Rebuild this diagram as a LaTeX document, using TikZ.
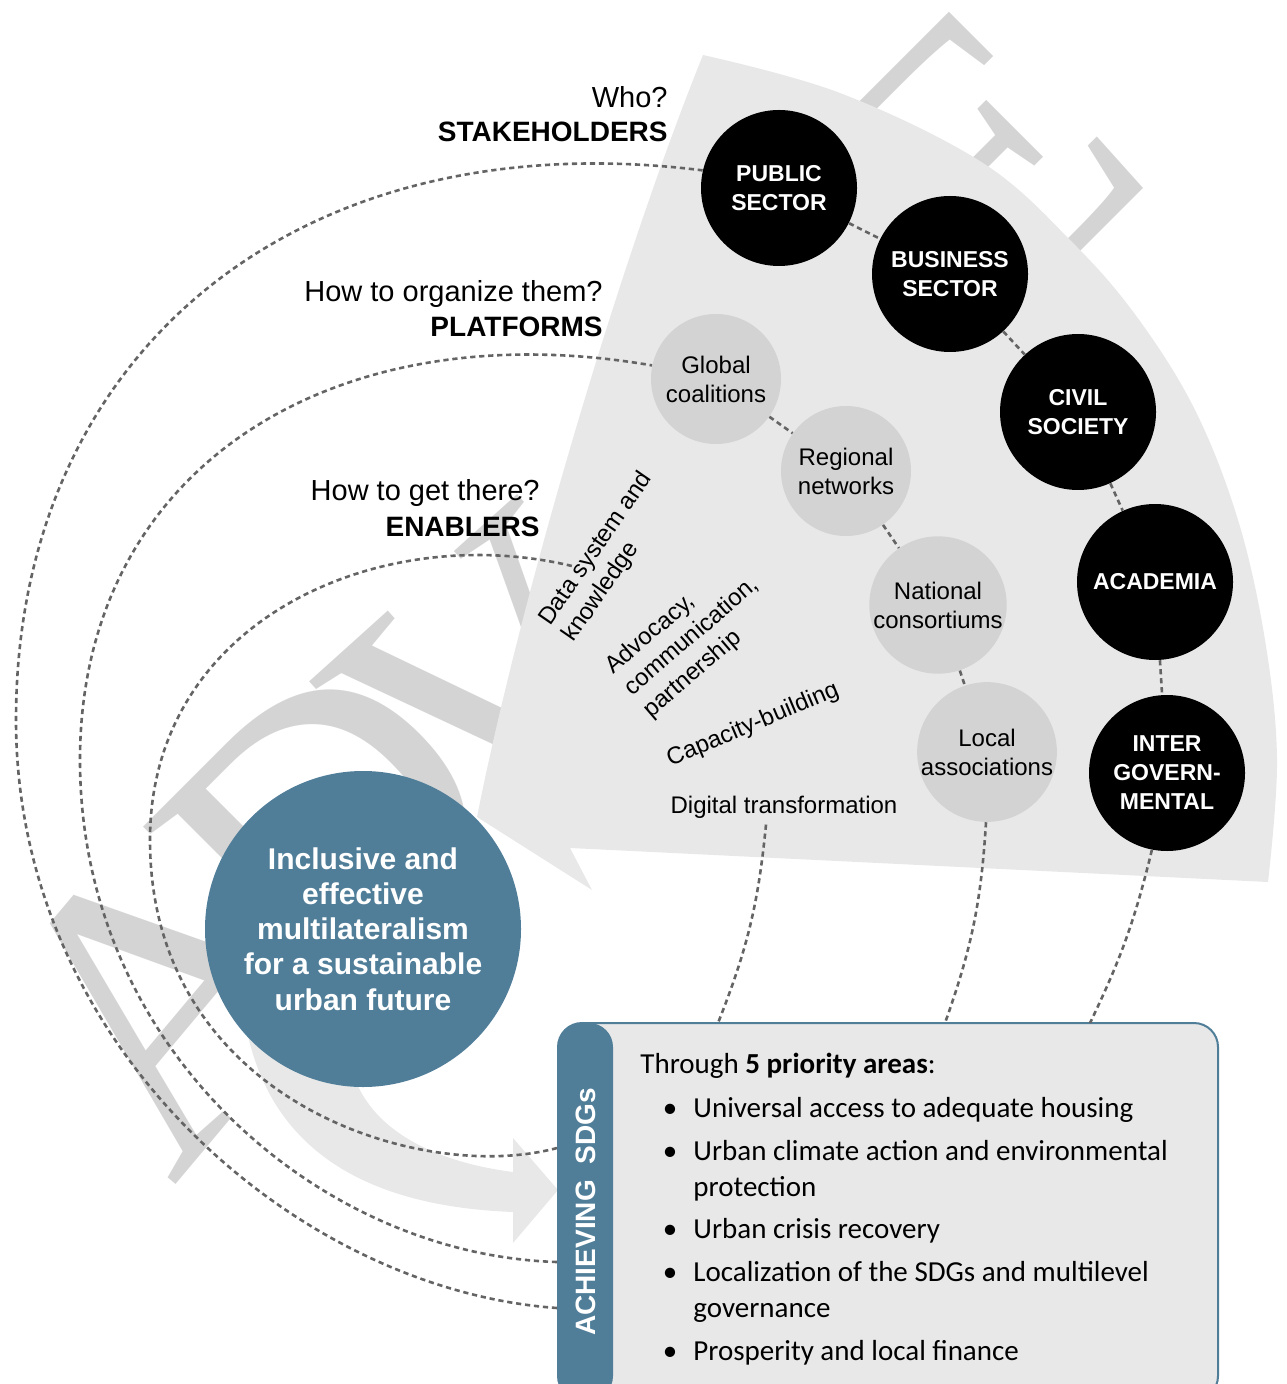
\documentclass[tikz,border=0pt]{standalone}
\usepackage{fontspec}
\setmainfont{Liberation Sans}
\newfontfamily\boxfont{Carlito}
\newfontfamily\wmfont{Liberation Serif}
\definecolor{fanGray}{RGB}{232,232,232}
\definecolor{platGray}{RGB}{211,211,211}
\definecolor{wmGray}{RGB}{212,212,212}
\definecolor{dashGray}{RGB}{100,100,100}
\definecolor{unBlue}{RGB}{80,126,153}
\tikzset{
  stake/.style={circle, fill=black, text=white, minimum size=78pt, inner sep=0pt, align=center, font=\bfseries\fontsize{11.5}{14.5}\selectfont},
  plat/.style={circle, fill=platGray, text=black, minimum size=65pt, inner sep=0pt, align=center, font=\fontsize{12}{14.5}\selectfont},
  conn/.style={draw=dashGray, line width=1.3pt, dash pattern=on 2.6pt off 1.9pt},
  qlab/.style={anchor=base east, inner sep=0pt, font=\fontsize{14.5}{17}\selectfont},
  qbold/.style={anchor=base east, inner sep=0pt, font=\bfseries\fontsize{14}{17}\selectfont},
  enab/.style={inner sep=0pt, align=left, font=\fontsize{12}{14.5}\selectfont},
  wm/.style={inner sep=0pt, text=wmGray, font=\wmfont\fontsize{200}{200}\selectfont},
  itemtxt/.style={anchor=base west, inner sep=0pt, font=\boxfont\fontsize{14.5}{18}\selectfont},
  bul/.style={anchor=base, inner sep=0pt, font=\boxfont\fontsize{14.5}{18}\selectfont},
}
\begin{document}
\begin{tikzpicture}[x=0.5pt,y=-0.5pt]
\useasboundingbox (0,0) rectangle (1286,1384);
% watermark letters
\node[wm, rotate=50] (wmA) at (165,992) {A};
\node[wm, rotate=45] (wmD) at (330,826) {D};
\node[wm, rotate=42] (wmV) at (503,688) {V};
\node[wm, rotate=45] (wmE) at (981,166) {E};
% curved arrow band
\fill[fanGray] (240,960) .. controls (240,1120) and (330,1205) .. (513,1212) -- (513,1243) -- (558,1190) -- (513,1138) -- (513,1172) .. controls (420,1160) and (360,1120) .. (350,1060) -- cycle;
% fan
\fill[fanGray] plot[smooth, tension=0.6] coordinates {(703,55) (840,93) (983,163) (1073,243) (1137,317) (1195,410) (1238,520) (1265,640) (1277,760) (1268,882)} -- (570,848) -- (592,890) -- (477,817) .. controls (520,600) and (620,260) .. (703,55) -- cycle;
% box
\draw[draw=unBlue, line width=1pt, fill=fanGray, rounded corners=12pt] (558,1023) rectangle (1218,1400);
\fill[unBlue, rounded corners=12pt] (558,1023) rectangle (613,1400);
\coordinate (sdgA) at (557,1148);
\coordinate (sdgB) at (557,1262);
\coordinate (sdgC) at (557,1308);
\coordinate (topD) at (718,1023);
\coordinate (topL) at (945,1023);
\coordinate (topI) at (1090,1023);
\coordinate (dataend) at (572,566);
% question labels
\node[qlab] (who) at (668,108) {Who?};
\node[qbold] (stk) at (668,142) {STAKEHOLDERS};
\node[qlab] (how1) at (603,302) {How to organize them?};
\node[qbold] (plf) at (603,337) {PLATFORMS};
\node[qlab] (how2) at (540,501) {How to get there?};
\node[qbold] (enb) at (540,536) {ENABLERS};
% stakeholders
\node[stake] (pub) at (779,188) {PUBLIC\\SECTOR};
\node[stake] (bus) at (950,274) {BUSINESS\\SECTOR};
\node[stake] (civ) at (1078,412) {CIVIL\\SOCIETY};
\node[stake] (aca) at (1155,582) {ACADEMIA};
\node[stake] (int) at (1167,773) {INTER\\GOVERN-\\MENTAL};
% platforms
\node[plat] (glo) at (716,379) {Global\\coalitions};
\node[plat] (reg) at (846,471) {Regional\\networks};
\node[plat] (nat) at (938,605) {National\\consortiums};
\node[plat] (loc) at (987,752) {Local\\associations};
% enablers
\node[enab, rotate=55.4] (data) at (608,557) {Data system and\\knowledge};
\node[enab, rotate=40.7] (adv) at (692,637) {Advocacy,\\communication,\\partnership};
\node[enab, rotate=22.9] (cap) at (753,725) {Capacity-building};
\node[enab, inner sep=3pt] (dig) at (784,807) {Digital transformation};
% goal
\node[circle, fill=unBlue, minimum size=158pt, inner sep=0pt, text=white, align=center, font=\bfseries\fontsize{15}{17.6}\selectfont] (goal) at (363,929) {Inclusive and\\effective\\multilateralism\\for a sustainable\\urban future};
% box texts
\node[rotate=90, inner sep=0pt, text=white, font=\bfseries\fontsize{14}{17}\selectfont] (ach) at (586,1212) {ACHIEVING\ \ SDGs};
\node[itemtxt] (thr) at (640,1073) {Through \textbf{5 priority areas}:};
\node[bul] (b1) at (670,1117) {•};
\node[itemtxt] (i1) at (693,1117) {Universal access to adequate housing};
\node[bul] (b2) at (670,1160) {•};
\node[itemtxt] (i2) at (693,1160) {Urban climate action and environmental};
\node[itemtxt] (i2b) at (693,1196) {protection};
\node[bul] (b3) at (670,1238) {•};
\node[itemtxt] (i3) at (693,1238) {Urban crisis recovery};
\node[bul] (b4) at (670,1281) {•};
\node[itemtxt] (i4) at (693,1281) {Localization of the SDGs and multilevel};
\node[itemtxt] (i4b) at (693,1317) {governance};
\node[bul] (b5) at (670,1360) {•};
\node[itemtxt] (i5) at (693,1360) {Prosperity and local finance};
% connectors
\draw[conn] (pub) -- (bus);
\draw[conn] (bus) -- (civ);
\draw[conn] (civ) -- (aca);
\draw[conn] (aca) -- (int);
\draw[conn] (int) to[bend left=6] (topI);
\draw[conn] (glo) -- (reg);
\draw[conn] (reg) -- (nat);
\draw[conn] (nat) -- (loc);
\draw[conn] (loc) to[bend left=8] (topL);
\draw[conn] ([xshift=-9pt]dig.south) to[bend left=8] (topD);
\draw[conn] (sdgC) .. controls (300,1290) and (16,1050) .. (16,720) .. controls (16,350) and (300,120) .. (pub.167);
\draw[conn] (sdgB) .. controls (320,1255) and (80,1050) .. (80,760) .. controls (80,470) and (330,310) .. (glo.168);
\draw[conn] (sdgA) .. controls (420,1185) and (150,1100) .. (150,840) .. controls (150,620) and (380,520) .. (dataend);
\end{tikzpicture}
\end{document}
